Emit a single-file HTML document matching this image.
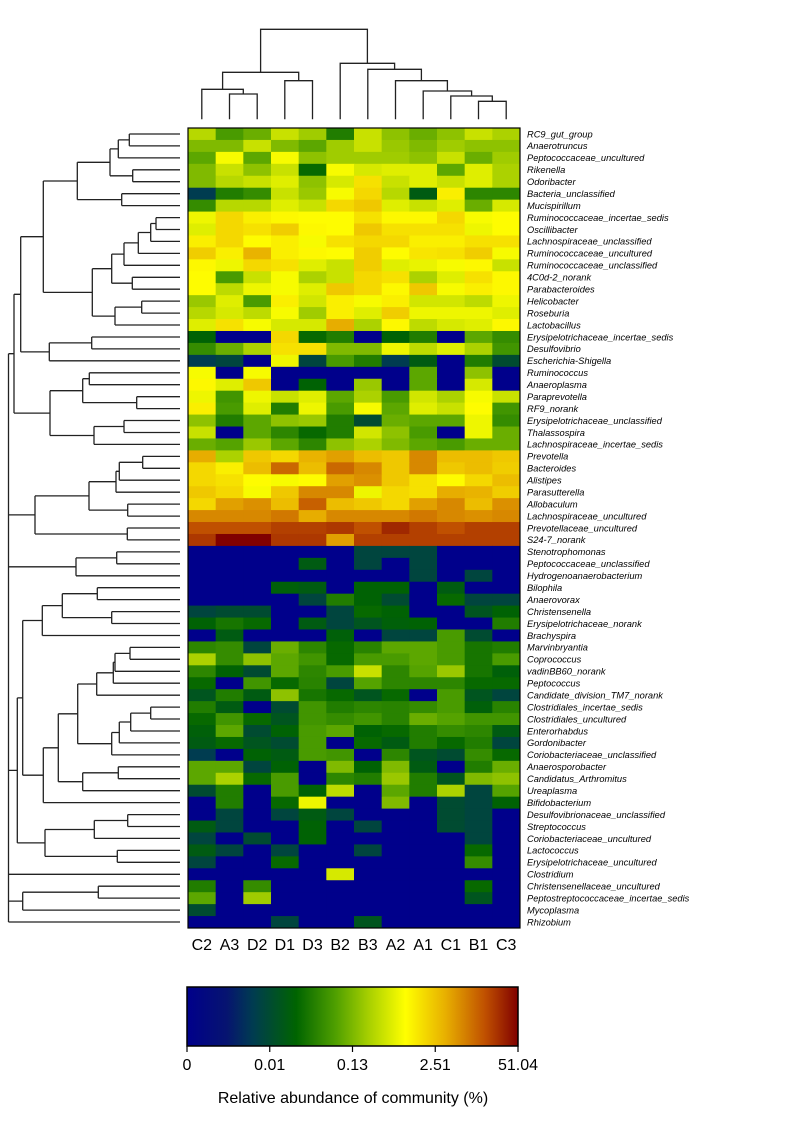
<!DOCTYPE html>
<html><head><meta charset="utf-8"><title>Heatmap</title>
<style>
html,body{margin:0;padding:0;background:#fff;}
svg{display:block;font-family:"Liberation Sans",Arial,sans-serif;}
</style></head>
<body>
<svg id="chart" width="785" height="1121" viewBox="0 0 785 1121" xmlns="http://www.w3.org/2000/svg">
<defs>
<linearGradient id="cbar" x1="0" x2="1" y1="0" y2="0">
<stop offset="0" stop-color="#00008B"/>
<stop offset="0.12" stop-color="#061470"/>
<stop offset="0.2" stop-color="#003c50"/>
<stop offset="0.33" stop-color="#006400"/>
<stop offset="0.45" stop-color="#50a000"/>
<stop offset="0.55" stop-color="#a8d000"/>
<stop offset="0.66" stop-color="#ffff00"/>
<stop offset="0.78" stop-color="#e8b000"/>
<stop offset="0.9" stop-color="#c05000"/>
<stop offset="1" stop-color="#800000"/>
</linearGradient>
</defs>
<g id="top-dendro"></g>
<g id="left-dendro"></g>
<g id="cells"></g>
<rect x="188" y="128" width="332" height="800" fill="none" stroke="#000" stroke-width="1.2"/>
<g id="rowlabels"></g>
<g id="collabels"></g>
<g>
<rect x="187" y="987" width="331" height="59" fill="url(#cbar)" stroke="#000" stroke-width="1.5"/>
<g id="cbticks"></g>
<text x="353" y="1103" font-size="16" text-anchor="middle">Relative abundance of community (%)</text>
</g>
</svg>
<script>
const colLabels = ["C2","A3","D2","D1","D3","B2","B3","A2","A1","C1","B1","C3"];
const rowLabels = ["RC9_gut_group","Anaerotruncus","Peptococcaceae_uncultured","Rikenella","Odoribacter","Bacteria_unclassified","Mucispirillum","Ruminococcaceae_incertae_sedis","Oscillibacter","Lachnospiraceae_unclassified","Ruminococcaceae_uncultured","Ruminococcaceae_unclassified","4C0d-2_norank","Parabacteroides","Helicobacter","Roseburia","Lactobacillus","Erysipelotrichaceae_incertae_sedis","Desulfovibrio","Escherichia-Shigella","Ruminococcus","Anaeroplasma","Paraprevotella","RF9_norank","Erysipelotrichaceae_unclassified","Thalassospira","Lachnospiraceae_incertae_sedis","Prevotella","Bacteroides","Alistipes","Parasutterella","Allobaculum","Lachnospiraceae_uncultured","Prevotellaceae_uncultured","S24-7_norank","Stenotrophomonas","Peptococcaceae_unclassified","Hydrogenoanaerobacterium","Bilophila","Anaerovorax","Christensenella","Erysipelotrichaceae_norank","Brachyspira","Marvinbryantia","Coprococcus","vadinBB60_norank","Peptococcus","Candidate_division_TM7_norank","Clostridiales_incertae_sedis","Clostridiales_uncultured","Enterorhabdus","Gordonibacter","Coriobacteriaceae_unclassified","Anaerosporobacter","Candidatus_Arthromitus","Ureaplasma","Bifidobacterium","Desulfovibrionaceae_unclassified","Streptococcus","Coriobacteriaceae_uncultured","Lactococcus","Erysipelotrichaceae_uncultured","Clostridium","Christensenellaceae_uncultured","Peptostreptococcaceae_incertae_sedis","Mycoplasma","Rhizobium"];
// abundance level per cell (0 = absent ... 11 = highest)
const values = [
[5.7,4,4.5,6,5.3,3,6,5,4.5,5,6,5.5],
[4.8,4.8,6,4.8,4.3,5.3,6,5.2,4.8,5.3,5,5],
[4.3,7,4.3,7,5,5.3,5.3,5.3,5,6,4.5,5.3],
[4.8,6,5,6,2.5,7,6.3,6.5,6.5,4.3,6.5,5.5],
[4.8,5.7,6,6.5,5,6.3,7.8,6,6.5,6,6.5,5.5],
[1,3,3.5,6,5.2,7,8,5.7,2,7.5,3.3,3.3],
[3.5,5.7,5.7,6.5,6,8,8.3,6.5,6,6.5,4.5,6.3],
[6.8,8,7.5,7.3,7.2,7.2,7.8,7.3,7.3,8,7,7.2],
[6.5,8,7.8,8.2,7.3,7.2,8.3,7.8,7.8,7.8,6.8,7.2],
[7.5,8,7.2,7.5,7,7.8,8,8,7.5,7.5,7.8,7.8],
[8.2,7.5,8.7,7.5,7.3,7.2,8.2,7.2,7.7,7.8,8.2,7],
[7.3,6.8,8,7.8,6.5,6,8.2,6.5,6.7,7,7.3,6],
[7.2,4,6,7,5.5,6,8,7.8,5.5,6.5,7.8,7.3],
[7.2,5.8,6.8,7,6.5,8.3,8,7.3,8.3,7,7.5,7.3],
[5.2,6.5,4,7.5,6.2,7.5,7,7.5,6.2,6.2,5.8,6.8],
[5.7,6.3,5.8,7,5.3,7.5,6.5,8.2,6.8,6.8,6.8,6.5],
[6.5,7.8,7,6.3,6.3,8.8,5.5,7.3,5.8,6.3,6.5,7.3],
[2.3,0,0,8,2.5,3,0,2.3,3,0,4.3,3.5],
[3.5,4.5,5.5,7.8,7.8,4.8,4.8,6.8,5.8,6.5,5.5,3.8],
[1,1.3,0,6.8,1.3,4,3,1,2,0,3,1.5],
[7,0,7,0,0,0,0,0,4.3,0,5,0],
[7.3,6.5,8.3,0,2.3,0,5.2,0,4.3,0,6.3,0],
[6.8,3.8,6.8,6,6.5,4.3,5.5,4,6.2,5.5,7,6],
[7.5,4,6.5,3,6.8,4,7,4.3,6.5,6,7.2,3.8],
[5,3,4.3,5,5.2,3,1.5,4.5,4.3,4.3,6.8,3.5],
[6,0,4.3,3.3,2.5,3,6.2,5,4,0,6.8,4.5],
[4.5,4.2,5.2,4.3,3.3,5,5.5,4.8,4.3,4,4.5,4.5],
[8.8,5.5,8.3,8,8.7,9,8.5,8.3,9.3,8.5,8.5,8.3],
[8,7.5,8.5,9.7,8.5,9.7,9.3,8.3,9.3,8.3,8.5,8.2],
[8,7.8,7.2,7,7.2,9,9.2,8.3,7.8,7.2,8,8.5],
[8.3,8,7,8.3,9.3,9.3,6.8,8,7.8,8.8,8.7,8.2],
[8,9,9.2,8.5,9.8,8.5,8.3,8,9,9.3,8.5,9.2],
[9.3,9.3,9.3,9.5,8.8,9.3,9.3,9.3,9.5,9.3,9.2,9.3],
[10,10,10,10.2,10.2,10.3,10,10.5,10.2,10,10.2,10.2],
[10.3,11,11,10.3,10.3,9,10.2,10.2,10.2,10.2,10.2,10.2],
[0,0,0,0,0,0,1.3,1.3,1.3,0,0,0],
[0,0,0,0,2,0,1.3,0,1.3,0,0,0],
[0,0,0,0,0,0,0,0,1.3,0,1.3,0],
[0,0,0,2.2,2,0,2.3,2.3,0,2,0,0],
[0,0,0,0,1.3,3,2.3,1.5,0,2.5,1.3,1.3],
[1.3,1.5,1.5,0,0,1.3,2.5,2.3,0,0,1.8,2.3],
[2.3,2.8,2.5,0,2,1.3,1.8,2.2,2.3,0,0,3],
[0,2,0,0,0,2.2,0,1.3,1.3,4,1.5,0],
[3.3,3.5,1.3,4.5,3.3,2.5,3.2,4.3,4.3,4,2.8,3],
[5.5,3.5,5,4.3,3.8,2.5,4,4,4.3,4,2.8,4],
[3.3,2.3,1.5,4.3,3.3,4,6,3.3,4.2,5.2,2.8,2.2],
[2.5,0,3.8,2.5,3.2,1.3,4.2,3.3,3.3,3.3,2.5,2.5],
[1.8,3,2,5,2.8,2.5,1.8,2.5,0,4,1.8,1.3],
[3,2,0,1.5,3.8,3,3.3,3.2,3.5,4,2.2,3.2],
[2.5,3.8,2.5,1.8,3.8,3.5,3.8,3.2,4.5,4.2,3.8,3.8],
[2.2,4.3,1.5,2.3,4,4.3,2.3,2.5,3,3.5,3.3,2],
[2,2.5,1.8,1.5,4,0,2.5,2,3,2.5,3,1.3],
[1,0,2.3,2,4,3.8,0,3.3,1.8,1.5,3.5,2.5],
[4.3,4.3,1.3,2.3,0,4.8,2.3,4.8,2,0,3,4.5],
[4.3,5.5,2.5,4,0,3.3,3,5.2,3,1.8,4.8,5],
[1.5,3,0,4,2.3,5.8,0,4.3,3,5.5,1.3,4.2],
[0,3,0,2.5,6.8,0,0,4.8,0,1.5,1.3,2.3],
[0,1.3,0,1.3,2,1.3,0,0,0,1.5,1.3,0],
[2,1.3,0,0,2.3,0,1.3,0,0,1.5,1.3,0],
[1.3,0,1.5,0,2.3,0,0,0,0,0,1.3,0],
[2,1.3,0,1.3,0,0,1.3,0,0,0,2.5,0],
[1.3,0,0,2.5,0,0,0,0,0,0,3.5,0],
[0,0,0,0,0,6.3,0,0,0,0,0,0],
[3,0,3.5,0,0,0,0,0,0,0,2.5,0],
[4.3,0,5.3,0,0,0,0,0,0,0,1.8,0],
[1.5,0,0,0,0,0,0,0,0,0,0,0],
[0,0,0,1.3,0,0,1.8,0,0,0,0,0]
];
const tickLabels = ["0","0.01","0.13","2.51","51.04"];

const NS = "http://www.w3.org/2000/svg";
const X0 = 188, X1 = 520, Y0 = 128, Y1 = 928;
const cw = (X1 - X0) / colLabels.length;
const rh = (Y1 - Y0) / rowLabels.length;
const xCol = i => X0 + cw * i;
const yRow = i => Y0 + rh * i;
const LEVEL_T = [0,0.2,0.3,0.38,0.44,0.52,0.59,0.65,0.72,0.8,0.9,1];
const STOPS = [[0,[0,0,139]],[0.12,[6,20,112]],[0.2,[0,60,80]],[0.33,[0,100,0]],[0.45,[80,160,0]],[0.55,[168,208,0]],[0.66,[255,255,0]],[0.78,[232,176,0]],[0.9,[192,80,0]],[1,[128,0,0]]];
function levelT(v){
  v = Math.max(0, Math.min(11, v));
  const i = Math.min(10, Math.floor(v)), f = v - i;
  return LEVEL_T[i] + (LEVEL_T[i+1] - LEVEL_T[i]) * f;
}
function color(v){
  const t = levelT(v);
  for (let k = 0; k < STOPS.length - 1; k++){
    const [a, ca] = STOPS[k], [b, cb] = STOPS[k+1];
    if (t <= b){
      const f = (t - a) / (b - a);
      const c = ca.map((x, j) => Math.round(x + (cb[j] - x) * f));
      return `rgb(${c[0]},${c[1]},${c[2]})`;
    }
  }
  return "rgb(128,0,0)";
}
function mk(tag, attrs, parent){
  const e = document.createElementNS(NS, tag);
  for (const k in attrs) e.setAttribute(k, attrs[k]);
  parent.appendChild(e);
  return e;
}
const cells = document.getElementById("cells");
values.forEach((row, r) => {
  row.forEach((v, c) => {
    const e = mk("rect", {x: xCol(c).toFixed(2), y: yRow(r).toFixed(2), width: (cw + 0.5).toFixed(2), height: (rh + 0.5).toFixed(2), fill: color(v)}, cells);
    
    
  });
});
const rl = document.getElementById("rowlabels");
rowLabels.forEach((lab, r) => {
  const t = mk("text", {x: 527, y: (yRow(r) + rh / 2 + 3.3).toFixed(2), "font-size": "9.3", "font-style": "italic"}, rl);
  t.textContent = lab;
  
  
});
const cl = document.getElementById("collabels");
colLabels.forEach((lab, c) => {
  const t = mk("text", {x: (xCol(c) + cw / 2).toFixed(2), y: 950, "font-size": "16", "text-anchor": "middle"}, cl);
  t.textContent = lab;
  
  
});
const cb = document.getElementById("cbticks");
tickLabels.forEach((lab, i) => {
  const x = 187 + 331 * i / (tickLabels.length - 1);
  const l = mk("line", {x1: x, x2: x, y1: 1046, y2: 1052, stroke: "#000", "stroke-width": 1.2}, cb);
  
  
  const t = mk("text", {x: x, y: 1070, "font-size": "16", "text-anchor": "middle"}, cb);
  t.textContent = lab;
  
  
});
const colTree = [29.3,
  [72.3, [89.3, 0, [94, 1, 2]], [80.7, 3, 4]],
  [63.3, 5, [69.3, 6, [80.7, 7, [91, 8, [96, 9, [101.3, 10, 11]]]]]]];
const rowTree = [8.5,
  [14,
    [20.7,
      [43.3,
        [77.3, [110, [118.3, [129.3, 0, 1], 2], [132.7, 3, 4]], [121.7, 5, 6]],
        [92.3, [111.7, [124, [138.3, [150.7, [156, 7, 8], 9], 10], 11], [132.3, 12, 13]], [115, [141.7, 14, 15], 16]]],
      [49.3, [91.7, 17, 18], 19]],
    [50, [82.7, [89.3, 20, 21], [136.7, 22, 23]], [94, [124, 24, 25], 26]]],
  [35, [89, [116, [119.3, [142.7, 27, 28], 29], 30], [127.7, 31, 32]], [127.3, 33, 34]],
  [76, [116.7, 35, 36], 37],
  [17.3,
    [22.7,
      [42.3, [62.3, [97.3, 38, 39], [111.7, 40, 41]], 42],
      [43.3, [58.3, [77.7, [96.7, [113.3, [115, [130, 43, 44], 45], 46], 47], [111.7, [119.3, [130.7, [150.7, 48, 49], 50], 51], 52]], [82.7, [118.3, 53, 54], 55]], 56]],
    [45, [94.3, [127.7, 57, 58], 59], [117.3, 60, 61]]],
  62,
  [22.7, [98.3, 63, 64], 65],
  66];
const td = document.getElementById("top-dendro");
let dTop = "";
function drawCol(n){
  if (typeof n === "number") return {x: xCol(n) + cw / 2, y: 119.3};
  const a = drawCol(n[1]), b = drawCol(n[2]);
  dTop += `M${a.x.toFixed(1)},${a.y}V${n[0]}H${b.x.toFixed(1)}V${b.y}`;
  return {x: (a.x + b.x) / 2, y: n[0]};
}
drawCol(colTree);
const p1 = mk("path", {d: dTop, fill: "none", stroke: "#222", "stroke-width": 1.3}, td);


const ld = document.getElementById("left-dendro");
let dLeft = "";
function drawRow(n){
  if (typeof n === "number") return {x: 180, y: yRow(n) + rh / 2};
  const ch = n.slice(1).map(drawRow);
  const h = n[0];
  ch.forEach(c => { dLeft += `M${c.x.toFixed(1)},${c.y.toFixed(1)}H${h}`; });
  dLeft += `M${h},${ch[0].y.toFixed(1)}V${ch[ch.length-1].y.toFixed(1)}`;
  return {x: h, y: ch.reduce((s, c) => s + c.y, 0) / ch.length};
}
drawRow(rowTree);
const p2 = mk("path", {d: dLeft, fill: "none", stroke: "#222", "stroke-width": 1.3}, ld);


</script>
</body></html>
